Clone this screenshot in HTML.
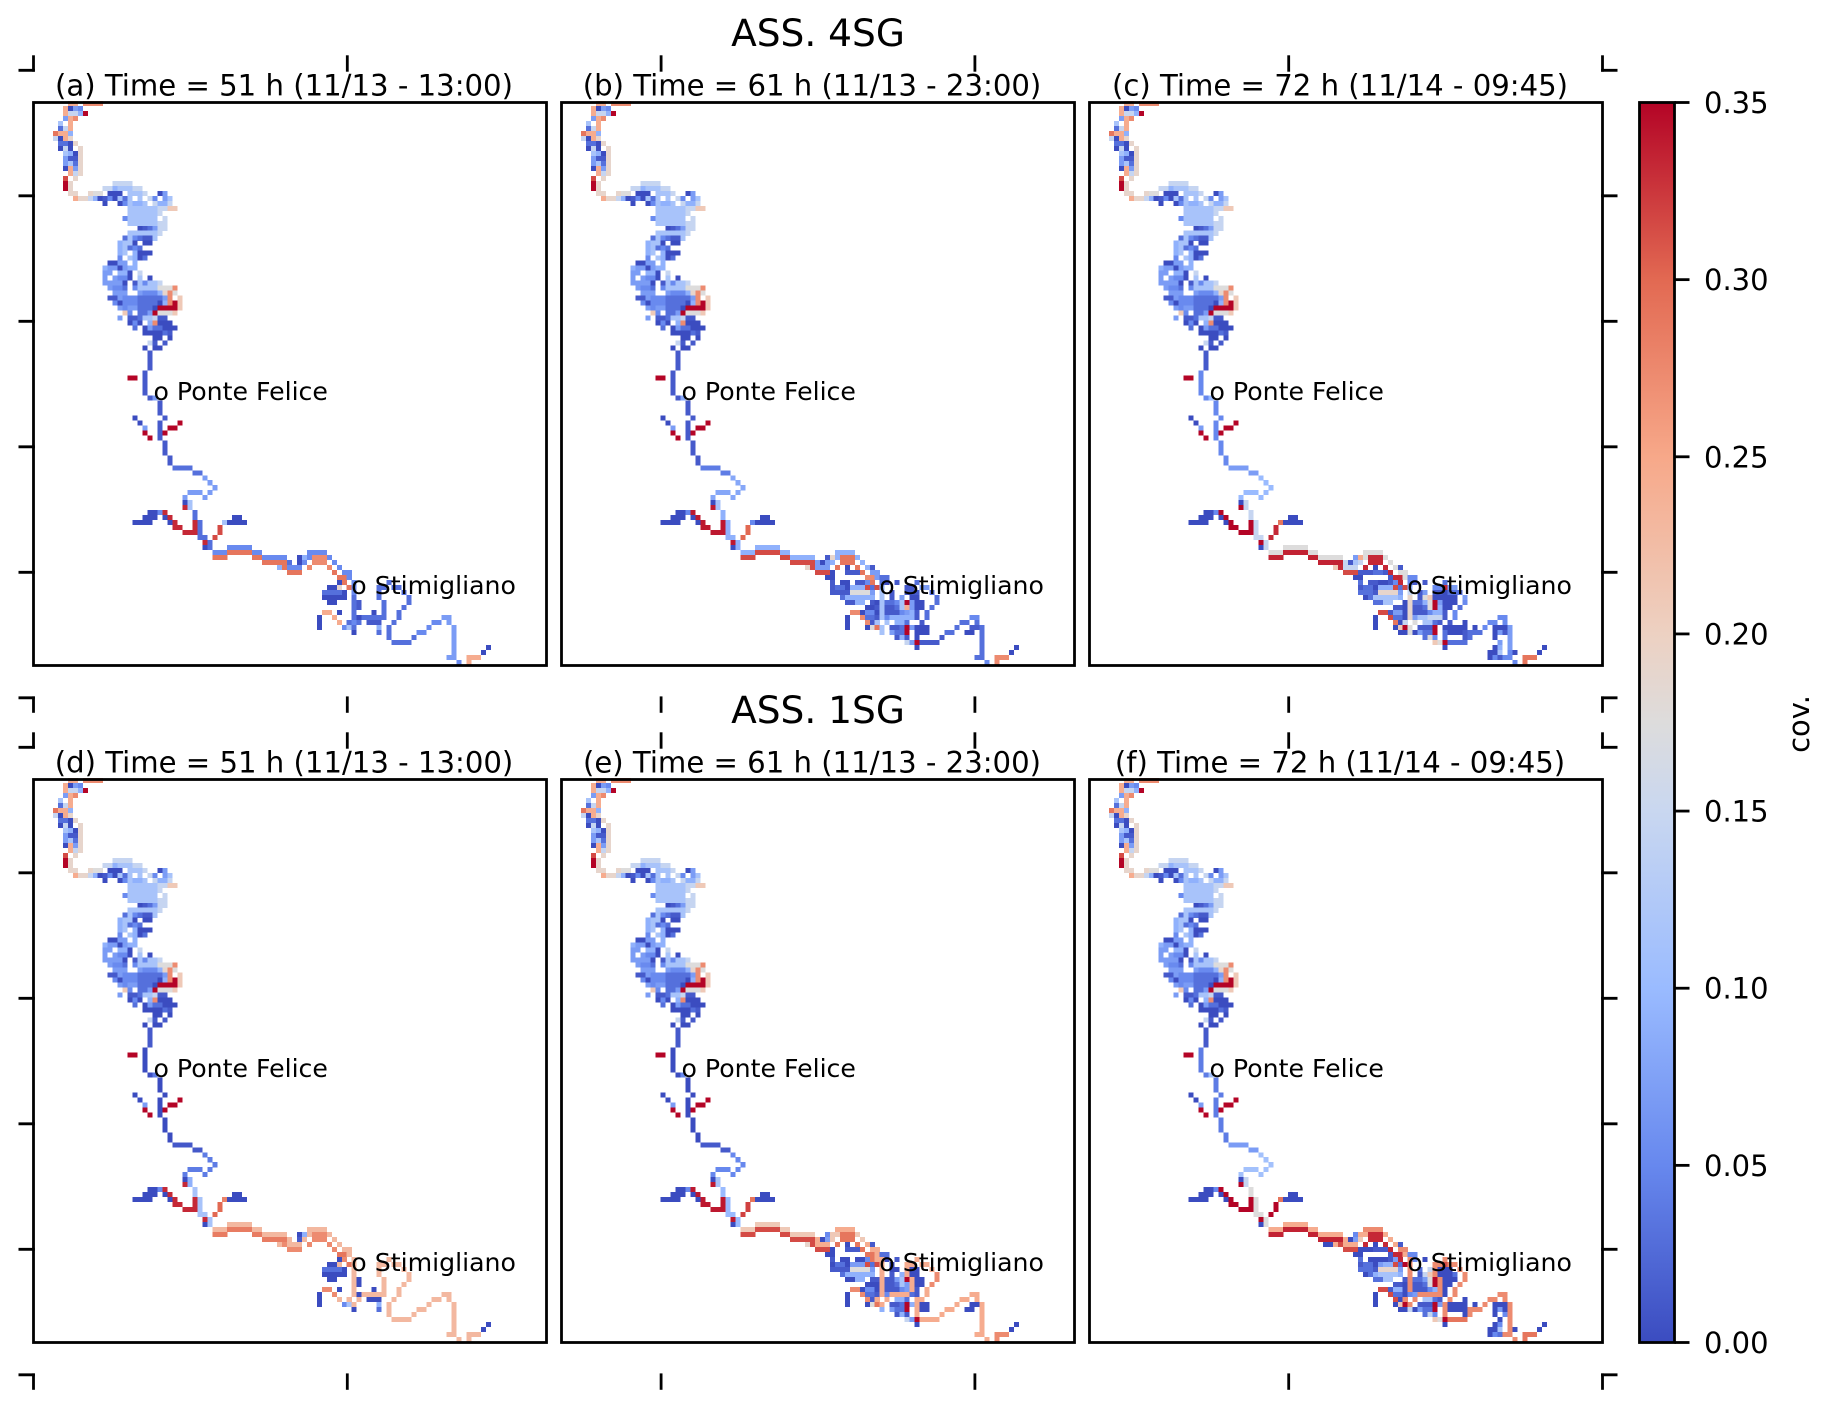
<!DOCTYPE html>
<html lang="en">
<head>
<meta charset="utf-8">
<title>ASS. 4SG and ASS. 1SG covariance maps</title>
<style>
html,body{margin:0;padding:0;background:#fff;width:1825px;height:1408px;overflow:hidden}
svg{display:block}
text{font-family:"DejaVu Sans","Liberation Sans",sans-serif;fill:#000}
.title{font-size:29.15px;text-anchor:middle}
.sup{font-size:37.5px;text-anchor:middle}
.ann{font-size:25.2px}
.cb{font-size:29px}
</style>
</head>
<body>
<svg id="chart" xmlns="http://www.w3.org/2000/svg" width="1825" height="1408" viewBox="0 0 1825 1408">
<g id="cells" shape-rendering="crispEdges"></g>
<g id="frames"></g>
<g id="ticks"></g>
<g id="cbar"></g>
<text class="sup" x="818" y="46">ASS. 4SG</text>
<text class="sup" x="818" y="723">ASS. 1SG</text>
<text class="title" x="284" y="95.5">(a) Time = 51 h (11/13 - 13:00)</text>
<text class="title" x="812" y="95.5">(b) Time = 61 h (11/13 - 23:00)</text>
<text class="title" x="1340" y="95.5">(c) Time = 72 h (11/14 - 09:45)</text>
<text class="title" x="284" y="772.5">(d) Time = 51 h (11/13 - 13:00)</text>
<text class="title" x="812" y="772.5">(e) Time = 61 h (11/13 - 23:00)</text>
<text class="title" x="1340" y="772.5">(f) Time = 72 h (11/14 - 09:45)</text>
<text class="ann" x="153.5" y="400">o Ponte Felice</text>
<text class="ann" x="681.5" y="400">o Ponte Felice</text>
<text class="ann" x="1209.5" y="400">o Ponte Felice</text>
<text class="ann" x="153.5" y="1077">o Ponte Felice</text>
<text class="ann" x="681.5" y="1077">o Ponte Felice</text>
<text class="ann" x="1209.5" y="1077">o Ponte Felice</text>
<text class="ann" x="351.3" y="594">o Stimigliano</text>
<text class="ann" x="879.3" y="594">o Stimigliano</text>
<text class="ann" x="1407.3" y="594">o Stimigliano</text>
<text class="ann" x="351.3" y="1271">o Stimigliano</text>
<text class="ann" x="879.3" y="1271">o Stimigliano</text>
<text class="ann" x="1407.3" y="1271">o Stimigliano</text>
<text transform="translate(1809 724) rotate(-90)" text-anchor="middle" style="font-size:29px">cov.</text>
</svg>
<script>
// Covariance levels: one value per letter a..r
const levelCodes = "abcdefghijklmnopqr";
const levelValues = [0, 0.012, 0.03, 0.052, 0.07, 0.09, 0.115, 0.147, 0.175, 0.19, 0.21, 0.245, 0.273, 0.29, 0.315, 0.332, 0.35, 0.23];
// River reach values per panel, in the order of reachCodes
const reachCodes = "UVWTXYZROS";
const reachA = [0.012, 0.03, 0.07, 0.115, 0.03, 0.052, 0.29, 0.332, 0.315, 0.115];
const reachB = [0.012, 0.04, 0.08, 0.115, 0.09, 0.09, 0.315, 0.34, 0.3, 0.05];
const reachC = [0.05, 0.07, 0.1, 0.147, 0.147, 0.175, 0.335, 0.35, 0.332, 0.29];
const reachD = [0, 0.01, 0.04, 0.09, 0.115, 0.23, 0.285, 0.332, 0.3, 0.28];
const reachE = [0, 0.012, 0.05, 0.115, 0.1, 0.21, 0.315, 0.34, 0.32, 0.29];
const reachF = [0.04, 0.07, 0.11, 0.147, 0.175, 0.245, 0.335, 0.35, 0.35, 0.29];
const colorbarTicks = [0, 0.05, 0.1, 0.15, 0.2, 0.25, 0.3, 0.35];
const colorbarLabels = ["0.00", "0.05", "0.10", "0.15", "0.20", "0.25", "0.30", "0.35"];
// Grid rows: [row, first column, level letters] ("." = dry cell)
const upperRows = [
[0,7,"ll.mmmm"],[1,6,"laed"],[2,6,"lhhfq"],[3,6,"elm"],[4,5,"g.l"],[5,5,"chl"],[6,4,"nllf"],[7,4,"halj"],
[8,5,"ccaj"],[9,5,"aha.j"],[10,6,"gfaj"],[11,6,"ebbj"],[12,6,"egcj"],[13,6,"alej"],[14,7,"lhj"],[15,6,"o.j"],
[16,6,"qj........hhhh"],[17,6,"qj......hhfggghh"],[18,7,"jj..jii.aaa.gggh..ae"],[19,8,"ljjhfabdagcg.g.hd.eg"],
[20,14,"a..adgffg.hffh"],[21,19,"gggggghhkk"],[22,19,"ggggggh"],[23,18,"dgggggg.h"],[24,19,"gggggghh"],[25,21,"abcehh"],
[26,19,"ggggggh"],[27,18,"cgdcbbg"],[28,17,"fgga.aa"],[29,17,"fgcdc"],[30,17,"fg.faaa"],[31,17,"d.gfac"],[32,15,"aaee.f"],
[33,14,"feeaeff"],[34,14,"ee.ffa.h"],[35,14,"e.edda.g.a"],[36,14,"eeeea.bgdggh"],[37,15,"eddc.dggggiiim"],
[38,16,"eee..edddfjmi"],[39,15,"bbedddcccccem.k"],[40,16,"dadddccccafmqk"],[41,17,"edeecccaqqqqk"],[42,18,"kd.cceqiiik"],
[43,17,"e.bbcgghbb"],[44,19,"ada.fmaaa"],[45,20,"c.aeccaaa"],[46,22,"aaaacb"],[47,24,"aa.a"],[48,23,"hb.b"],[49,22,"a.aa"],
[50,23,"b"],[51,23,"b"],[52,23,"b"],[53,23,"b"]
];
const midRows = [
[54,22,"U"],[55,19,"qq.U"],[56,22,"U"],[57,22,"U"],[58,22,"U"],[59,23,"UW"],[60,25,"U"],[61,25,"U"],[62,25,"U"],
[63,20,"a.....U"],[64,21,"a...U...q"],[65,22,"e..U.qq"],[66,22,"q..Uq"],[67,23,"q.U"],[68,26,"U"],[69,26,"U"],[70,26,"U"],
[71,27,"U"],[72,27,"U"],[73,28,"VVVV"],[74,32,"VV"],[75,34,"W"],[76,35,"W"],[77,36,"W"],[78,31,"WWW.W"],[79,30,"W...W"],
[80,30,"aT"],[81,30,"RT"],[82,23,"aadR.....X"],[83,22,"aaa.aR....X.......aa"],[84,20,"aaaa...aR...RX....Saaaa"],
[85,28,"RR..RX...O"],[86,30,"RRRX...O"],[87,33,"XX.O"],[88,34,"RX"],[89,34,"aX...YYYYY"],[90,36,"YYYZZZZZYY"],
[91,36,"ZZZ.....ZZYYYYY"],[92,46,"ZZZZZ"]
];
const lowerA = [
[90,55,"dddd"],[91,53,"afdmmmd"],[92,51,"c.ad.mmm.d"],[93,49,"fnddd.m...m.d"],[94,51,"nnn......n.dd"],[95,61,"nnd"],
[96,61,"an.d......c"],[97,59,"aaj.nd....cc.cc"],[98,58,"cccca.d....c....c"],[99,58,"aaaaa.c....c.....c"],
[100,59,"aa...cb....c....c"],[101,64,"cb....c...c"],[102,58,"ll.a..c...a.c..c"],[103,57,"a..l...caccccc..c........ee"],
[104,57,"a...l.cdc.bbb..c.......dd.e"],[105,57,"a....dgc....f.c.......d....e"],[106,64,"a....c.c.....dd.....e"],
[107,71,"c....c.......e"],[108,72,"cccc........e"],[109,84,"e......a"],[110,84,"e.....a"],[111,83,"ee..lll"],[112,85,"d.l"]
];
const lowerB = [
[90,55,"ffff"],[91,53,"bjfnnnf"],[92,51,"eaef.nnn.f"],[93,49,"joeee.n.a.n.fb"],[94,51,"oooa..bbbn.ee"],[95,53,"aa......mmecc"],
[96,54,"b.aa.bbdn.ca.b...c"],[97,54,"bccafffocof....bb.ee"],[98,54,"bbbbiiiie.g.b..bbb..c"],[99,56,"cffffff.g.b.e.aa...c"],
[100,57,"bbff.bagccdgqeaa..c"],[101,61,"aabgbbcgleaa.c"],[102,58,"mmaddagbbbdefb.c"],[103,57,"a..mccbgdfffffb.c........dd"],
[104,57,"a...mbg.g.ffc..b.......cc.c"],[105,57,"a...aing.bbcqeaaa.....c..bbc"],[106,64,"g.eccq.aaa...cc..aa.c"],
[107,67,"bfb.a....b.......c"],[108,69,"heqbbbb........c"],[109,71,"a............c......a"],[110,84,"c.....a"],[111,83,"cc..mmm"],[112,85,"d.m"]
];
const lowerC = [
[90,55,"iiii"],[91,53,"elipppi"],[92,51,"hbgh.ppp.i"],[93,49,"kphhh.p.a.p.ib"],[94,51,"ooobbbccbp.ii"],[95,53,"aa.....bppidd"],
[96,54,"c.bbaabdp.db.b...c"],[97,54,"bccafffocof....ddpee"],[98,54,"cccbjjjje.h.be.bbaccc"],[99,55,"acgggggf.j.bikaaaaa.e"],
[100,57,"ccgg..ajccfiqeaaa.d"],[101,61,"bbajbbciqfaa.c"],[102,58,"oobeeajbbbdffb.d"],[103,57,"a..occajegghhhb.d........dd"],
[104,57,"a...nah.i.ggcb.b..a....dd.d"],[105,57,"a...akqi.bbbq.aaaaa.a.d.aaae"],[106,62,"aaiaeccq.caaabccc..aebe"],
[107,67,"cid.c...bc....a..e"],[108,69,"kiqcccc......e.e"],[109,71,"a.........af.e......a"],[110,80,"aag.da....a"],[111,80,"adbdd..nnn"],[112,85,"d.n"]
];
const lowerD = [
[90,55,"rrrr"],[91,53,"afrmmmr"],[92,51,"r.br.mmm.r"],[93,49,"rmrrr.m...m.r"],[94,51,"mmm......m.rr"],[95,61,"nnr"],
[96,61,"am.r......r"],[97,59,"aar.nr....rr.rr"],[98,58,"cccca.r....r....r"],[99,58,"aaaaa.r....r.....r"],
[100,59,"aa...ra....r....r"],[101,64,"ra....r...r"],[102,58,"mm.a..r...a.r..r"],[103,57,"a..m...rarrrrr..r........rr"],
[104,57,"a...r.r.r.aaa..r.......rr.r"],[105,57,"a....dgr....f.r.......r....r"],[106,64,"a....c.r.....rr.....r"],
[107,71,"r....r.......r"],[108,72,"rrrr........r"],[109,84,"r......a"],[110,84,"r.....a"],[111,83,"rr..rrr"],[112,85,"r.r"]
];
const lowerE = [
[90,55,"llll"],[91,53,"dkknnnk"],[92,51,"laek.nnn.k"],[93,49,"jolll.n.a.n.lb"],[94,51,"oooa..bbbn.ll"],[95,53,"aa......nnlcc"],
[96,54,"b.aa.aadnlla.b...l"],[97,54,"accaeeeocol.a..ll.ll"],[98,54,"bbbbiiiie.l.aa.laa..l"],[99,56,"cffffff.l.b.flaa...m"],
[100,57,"aaff.bblbbegqlaa..m"],[101,61,"aaalbbcgelaa.m"],[102,58,"mmaddalbbbdelb.l"],[103,57,"a..mccbldllllcb.l........ll"],
[104,57,"a...mbl.l.ffc.ll.......ll.l"],[105,57,"a...ainl.bbcqflaa.....l..aal"],[106,64,"f.eccq.laa...ll..aa.l"],
[107,67,"bfb.l....l.......l"],[108,69,"heqllll........l"],[109,71,"a............l......a"],[110,84,"l.....a"],[111,83,"ll..mmm"],[112,85,"l.m"]
];
const lowerF = [
[90,55,"mmmm"],[91,53,"dllpppl"],[92,51,"laek.ppp.l"],[93,47,"aalolll.p.a.p.lb"],[94,51,"oooaaabbbp.mm"],[95,53,"aa.....bppldd"],
[96,54,"c.aaaabep.md.a...m"],[97,54,"bccaeffocqm....mmomm"],[98,54,"cccbjjjje.m.c.hmaaa.m"],[99,55,"acfggggf.m.bhkmaaac.m"],
[100,57,"ccgg..bmcceiqmaaa.m"],[101,61,"bbambbciqmaa.m"],[102,58,"oobffambbbdfma.m"],[103,57,"a..occademmmmma.m........mm"],
[104,57,"a...oam.m.ggcb.m..a....mm.m"],[105,57,"a...akqm.bbbqemaaaa.a.m.aaam"],[106,62,"aahaeccq.maaaammm..aeam"],
[107,67,"chd.m...am....a.dm"],[108,69,"kiqnnnn......a.m"],[109,71,"a.........ad.m......a"],[110,80,"aag.ma....a"],[111,80,"adcmm..nnn"],[112,85,"m.n"]
];

const panelNames = ["a", "b", "c", "d", "e", "f"];
const panelReach = [reachA, reachB, reachC, reachD, reachE, reachF];
const panelLower = [lowerA, lowerB, lowerC, lowerD, lowerE, lowerF];

// Layout
const SVGNS = "http://www.w3.org/2000/svg";
const frameW = 513, frameH = 563, colGap = 528, rowGap = 677, frameLeft = 33.5, frameTop = 102.5;
const cellW = 4.98, cellH = 4.99, vmax = 0.35;
const cbLeft = 1639.5, cbRight = 1674.5, cbTop = frameTop, cbBottom = frameTop + rowGap + frameH;

function panelColumn(i) { return i % 3; }
function panelRow(i) { return Math.floor(i / 3); }
function panelX(i) { return frameLeft + colGap * panelColumn(i); }
function panelY(i) { return frameTop + rowGap * panelRow(i); }
function xScale(i, col) { return panelX(i) - 0.5 + cellW * col; }
function yScale(i, row) { return panelY(i) - 1.5 + cellH * row; }
function cbScale(v) { return cbBottom - (v / vmax) * (cbBottom - cbTop); }

const cmapStops = [[0, [59,76,192]], [0.1429, [103,136,238]], [0.2857, [154,187,255]], [0.4286, [201,215,240]], [0.5, [221,220,220]], [0.5714, [237,209,194]], [0.7143, [247,168,137]], [0.8571, [226,105,82]], [1, [180,4,38]]];
function colorOf(v) {
  const t = Math.max(0, Math.min(1, v / vmax));
  for (let k = 1; k < cmapStops.length; k++) {
    if (t <= cmapStops[k][0]) {
      const a = cmapStops[k - 1], b = cmapStops[k], f = (t - a[0]) / (b[0] - a[0]);
      const c = a[1].map(function (x, j) { return Math.round(x + (b[1][j] - x) * f); });
      return "rgb(" + c.join(",") + ")";
    }
  }
  return "rgb(180,4,38)";
}
function codeValue(code, reach) {
  const l = levelCodes.indexOf(code);
  if (l >= 0) return levelValues[l];
  return reach[reachCodes.indexOf(code)];
}

const cellsG = document.getElementById("cells");
const framesG = document.getElementById("frames");
const ticksG = document.getElementById("ticks");
const cbarG = document.getElementById("cbar");

function drawRows(parent, i, rows, reach) {
  rows.forEach(function (entry) {
    const row = entry[0], start = entry[1], codes = entry[2];
    for (let k = 0; k < codes.length; k++) {
      if (codes[k] === ".") continue;
      const cell = document.createElementNS(SVGNS, "rect");
      cell.setAttribute("x", xScale(i, start + k).toFixed(2));
      cell.setAttribute("y", yScale(i, row).toFixed(2));
      cell.setAttribute("width", cellW + 0.03);
      cell.setAttribute("height", cellH + 0.03);
      cell.setAttribute("fill", colorOf(codeValue(codes[k], reach)));
      
      
      parent.appendChild(cell);
    }
  });
}

panelNames.forEach(function (name, i) {
  const g = document.createElementNS(SVGNS, "g");
  
  
  cellsG.appendChild(g);
  drawRows(g, i, upperRows, panelReach[i]);
  drawRows(g, i, midRows, panelReach[i]);
  drawRows(g, i, panelLower[i], panelReach[i]);

  const frame = document.createElementNS(SVGNS, "rect");
  frame.setAttribute("x", panelX(i));
  frame.setAttribute("y", panelY(i));
  frame.setAttribute("width", frameW);
  frame.setAttribute("height", frameH);
  frame.setAttribute("fill", "none");
  frame.setAttribute("stroke", "#000");
  frame.setAttribute("stroke-width", "2.8");
  
  
  framesG.appendChild(frame);
});

function addLine(parent, x1, y1, x2, y2, name) {
  const l = document.createElementNS(SVGNS, "line");
  l.setAttribute("x1", x1);
  l.setAttribute("y1", y1);
  l.setAttribute("x2", x2);
  l.setAttribute("y2", y2);
  l.setAttribute("stroke", "#000");
  l.setAttribute("stroke-width", "2.8");
  
  
  parent.appendChild(l);
}

// Outer tick marks of the two hidden full-row axes
const outerFractions = [0, 0.2, 0.4, 0.6, 0.8, 1];
const outerRows = [0, 1];
const outerLeft = 33.5, outerRight = 1602.5, outerTop = 70.3, outerBottom = 697.8, tickLen = 15;
outerRows.forEach(function (r) {
  const top = outerTop + r * rowGap, bottom = outerBottom + r * rowGap;
  outerFractions.forEach(function (f) {
    const x = outerLeft + f * (outerRight - outerLeft);
    const y = top + f * (bottom - top);
    addLine(ticksG, x, top + 1.4, x, top - tickLen, 'outer-top-tick');
    addLine(ticksG, x, bottom - 1.4, x, bottom + tickLen, 'outer-bottom-tick');
    addLine(ticksG, outerLeft + 1.4, y, outerLeft - tickLen, y, 'outer-left-tick');
    addLine(ticksG, outerRight - 1.4, y, outerRight + tickLen, y, 'outer-right-tick');
  });
});

// Colorbar
const defs = document.createElementNS(SVGNS, "defs");
const grad = document.createElementNS(SVGNS, "linearGradient");
grad.setAttribute("id", "cbGrad");
grad.setAttribute("x1", "0");
grad.setAttribute("y1", "1");
grad.setAttribute("x2", "0");
grad.setAttribute("y2", "0");
cmapStops.forEach(function (s) {
  const st = document.createElementNS(SVGNS, "stop");
  st.setAttribute("offset", s[0]);
  st.setAttribute("stop-color", "rgb(" + s[1].join(",") + ")");
  grad.appendChild(st);
});
defs.appendChild(grad);
cbarG.appendChild(defs);
const cbRect = document.createElementNS(SVGNS, "rect");
cbRect.setAttribute("x", cbLeft);
cbRect.setAttribute("y", cbTop);
cbRect.setAttribute("width", cbRight - cbLeft);
cbRect.setAttribute("height", cbBottom - cbTop);
cbRect.setAttribute("fill", "url(#cbGrad)");
cbRect.setAttribute("stroke", "#000");
cbRect.setAttribute("stroke-width", "2.8");


cbarG.appendChild(cbRect);
colorbarTicks.forEach(function (v, k) {
  const y = cbScale(v);
  addLine(cbarG, cbRight, y, cbRight + 15, y, 'colorbar-tick');
  const t = document.createElementNS(SVGNS, "text");
  t.setAttribute("x", 1704);
  t.setAttribute("y", (y + 10.5).toFixed(1));
  t.setAttribute("class", "cb");
  t.textContent = colorbarLabels[k];
  
  
  cbarG.appendChild(t);
});
</script>
</body>
</html>
